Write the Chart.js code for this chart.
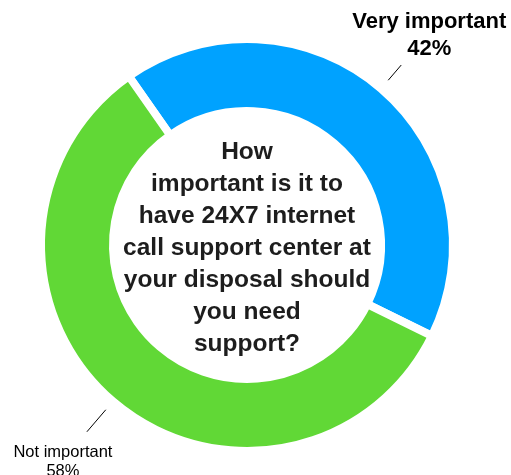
<!DOCTYPE html>
<html>
<head>
<meta charset="utf-8">
<title>24X7 support center</title>
<script src="https://cdn.jsdelivr.net/npm/chart.js@4.4.0/dist/chart.umd.min.js"></script>
<style>
  html, body { margin: 0; padding: 0; background: #fff; }
  #wrap { width: 511px; height: 475px; }
</style>
</head>
<body>
<div id="wrap"><canvas id="supportChart"></canvas></div>
<script>
// answers and their share of respondents (%)
const categories = ['Very important', 'Not important'];
const shares = [42, 58];
const sliceColors = ['#00A2FF', '#61D836'];

// question printed in the hole of the ring
const questionLines = [
    'How',
    'important is it to',
    'have 24X7 internet',
    'call support center at',
    'your disposal should',
    'you need',
    'support?'
];

const FONT = '"Liberation Sans", Arial, Helvetica, sans-serif';

// question text in the middle
const centerText = {
    id: 'centerText',
    afterDraw(chart) {
        const arc = chart.getDatasetMeta(0).data[0];
        if (!arc) return;
        const ctx = chart.ctx;
        const lineH = 32;
        const top = arc.y + 3 - (questionLines.length - 1) * lineH / 2;
        ctx.save();
        ctx.font = 'bold 24.5px ' + FONT;
        ctx.fillStyle = '#1d1d1d';
        ctx.textAlign = 'center';
        ctx.textBaseline = 'middle';
        questionLines.forEach((line, i) => {
            ctx.fillText(line, arc.x, top + i * lineH);
        });
        ctx.restore();
    }
};

// outside labels with a short leader line at each slice's middle angle
const sliceLabels = {
    id: 'sliceLabels',
    afterDraw(chart) {
        const ctx = chart.ctx;
        const meta = chart.getDatasetMeta(0);
        const styles = [
            { font: 'bold 22px ' + FONT, lineH: 27, gapIn: 11, gapOut: 31, dx: 28, dy: -10, up: true },
            { font: '16.5px ' + FONT, lineH: 19, gapIn: 11, gapOut: 40, dx: -24, dy: 12, up: false }
        ];
        meta.data.forEach((arc, i) => {
            const st = styles[i];
            const mid = (arc.startAngle + arc.endAngle) / 2;
            const r = arc.outerRadius;
            const x1 = arc.x + Math.cos(mid) * (r + st.gapIn);
            const y1 = arc.y + Math.sin(mid) * (r + st.gapIn);
            const x2 = arc.x + Math.cos(mid) * (r + st.gapOut);
            const y2 = arc.y + Math.sin(mid) * (r + st.gapOut);

            ctx.save();
            ctx.strokeStyle = '#000';
            ctx.lineWidth = 1;
            ctx.beginPath();
            ctx.moveTo(x1, y1);
            ctx.lineTo(x2, y2);
            ctx.stroke();

            const lines = [categories[i], shares[i] + '%'];
            ctx.font = st.font;
            ctx.fillStyle = '#000';
            ctx.textAlign = 'center';
            const tx = x2 + st.dx;
            if (st.up) {
                ctx.textBaseline = 'alphabetic';
                lines.forEach((t, k) => {
                    ctx.fillText(t, tx, y2 + st.dy - (lines.length - 1 - k) * st.lineH);
                });
            } else {
                ctx.textBaseline = 'top';
                lines.forEach((t, k) => {
                    ctx.fillText(t, tx, y2 + st.dy + k * st.lineH);
                });
            }
            ctx.restore();
        });
    }
};

new Chart(document.getElementById('supportChart'), {
    type: 'doughnut',
    data: {
        labels: categories,
        datasets: [{
            data: shares,
            backgroundColor: sliceColors,
            borderColor: '#ffffff',
            borderWidth: 8
        }]
    },
    options: {
        responsive: true,
        maintainAspectRatio: false,
        animation: false,
        rotation: -35,
        radius: 206,
        cutout: 147,
        layout: { padding: { left: 0, right: 17, top: 15, bottom: 0 } },
        plugins: {
            legend: { display: false },
            tooltip: { enabled: false }
        }
    },
    plugins: [centerText, sliceLabels]
});
</script>
</body>
</html>
